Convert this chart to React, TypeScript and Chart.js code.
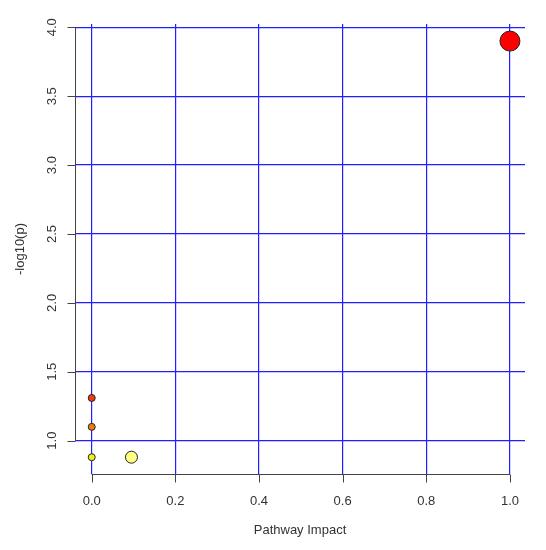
import React, { useEffect, useRef } from "react";
import { Chart, registerables } from "chart.js";

Chart.register(...registerables);

// Data
const pathwayImpact = [1.0, 0.0, 0.0, 0.0, 0.095];
const negLogP = [3.9, 1.31, 1.1, 0.88, 0.88];
const xTicks = [0, 0.2, 0.4, 0.6, 0.8, 1.0];
const yTicks = [1.0, 1.5, 2.0, 2.5, 3.0, 3.5, 4.0];
const xTitle = "Pathway Impact";
const yTitle = "-log10(p)";

// Styles
const pointColors = ["#FF0000", "#F03A10", "#F07A10", "#F2EE1E", "#FFFF80"];
const pointRadii = [10, 3.5, 3.5, 3.5, 6];
const FONT = "13px 'Liberation Sans', Arial, sans-serif";
const TEXT = "#333333";
const AXIS = "#444444";
const GRID = "#2020ff";

const rAxesPlugin = {
  id: "rAxes",
  afterDraw(chart: any) {
    const ctx = chart.ctx;
    const xs = chart.scales.x;
    const ys = chart.scales.y;
    const area = chart.chartArea;
    ctx.save();
    ctx.strokeStyle = AXIS;
    ctx.lineWidth = 1;
    // left axis line + ticks
    const lx = Math.round(area.left) + 0.5;
    ctx.beginPath();
    ctx.moveTo(lx, ys.getPixelForValue(yTicks[0]));
    ctx.lineTo(lx, ys.getPixelForValue(yTicks[yTicks.length - 1]));
    yTicks.forEach((v) => {
      const py = Math.round(ys.getPixelForValue(v)) + 0.5;
      ctx.moveTo(lx - 8, py);
      ctx.lineTo(lx, py);
    });
    ctx.stroke();
    // bottom axis line + ticks
    const by = Math.round(area.bottom) + 0.5;
    ctx.beginPath();
    ctx.moveTo(xs.getPixelForValue(xTicks[0]), by);
    ctx.lineTo(xs.getPixelForValue(xTicks[xTicks.length - 1]), by);
    xTicks.forEach((v) => {
      const px = Math.round(xs.getPixelForValue(v)) + 0.5;
      ctx.moveTo(px, by);
      ctx.lineTo(px, by + 8);
    });
    ctx.stroke();

    ctx.fillStyle = TEXT;
    ctx.font = FONT;
    ctx.textAlign = "center";
    ctx.textBaseline = "middle";
    xTicks.forEach((v) => {
      ctx.fillText(v.toFixed(1), xs.getPixelForValue(v), area.bottom + 27);
    });
    yTicks.forEach((v) => {
      ctx.save();
      ctx.translate(area.left - 23, ys.getPixelForValue(v));
      ctx.rotate(-Math.PI / 2);
      ctx.fillText(v.toFixed(1), 0, 0);
      ctx.restore();
    });
    ctx.fillText(xTitle, (area.left + area.right) / 2, area.bottom + 56);
    ctx.save();
    ctx.translate(area.left - 55, (area.top + area.bottom) / 2);
    ctx.rotate(-Math.PI / 2);
    ctx.fillText(yTitle, 0, 0);
    ctx.restore();
    ctx.restore();
  },
};

export default function App() {
  const ref = useRef<HTMLCanvasElement | null>(null);
  useEffect(() => {
    if (!ref.current) return;
    const chart = new Chart(ref.current, {
      type: "scatter",
      data: {
        datasets: [
          {
            data: pathwayImpact.map((x, i) => ({ x, y: negLogP[i] })),
            backgroundColor: pointColors,
            borderColor: "#222222",
            borderWidth: 1,
            pointRadius: pointRadii,
            pointHoverRadius: pointRadii,
          },
        ],
      },
      options: {
        animation: false,
        responsive: false,
        maintainAspectRatio: false,
        layout: { padding: { top: 24, right: 21, left: 0, bottom: 0 } },
        plugins: { legend: { display: false }, tooltip: { enabled: false } },
        scales: {
          x: {
            type: "linear",
            min: -0.04,
            max: 1.036,
            afterBuildTicks: (s: any) => {
              s.ticks = xTicks.map((v) => ({ value: v, label: v.toFixed(1) }));
            },
            afterFit: (s: any) => {
              s.height = 76;
            },
            ticks: { display: false },
            border: { display: false },
            grid: { color: GRID, lineWidth: 1.2, drawTicks: false },
          },
          y: {
            type: "linear",
            min: 0.758,
            max: 4.024,
            afterBuildTicks: (s: any) => {
              s.ticks = yTicks.map((v) => ({ value: v, label: v.toFixed(1) }));
            },
            afterFit: (s: any) => {
              s.width = 75;
            },
            ticks: { display: false },
            border: { display: false },
            grid: { color: GRID, lineWidth: 1.2, drawTicks: false },
          },
        },
      },
      plugins: [rAxesPlugin],
    });
    return () => chart.destroy();
  }, []);
  return (
    <div style={{ position: "fixed", left: 0, top: 0, width: 546, height: 550, background: "#fff" }}>
      <canvas ref={ref} width={546} height={550} style={{ width: 546, height: 550 }} />
    </div>
  );
}
